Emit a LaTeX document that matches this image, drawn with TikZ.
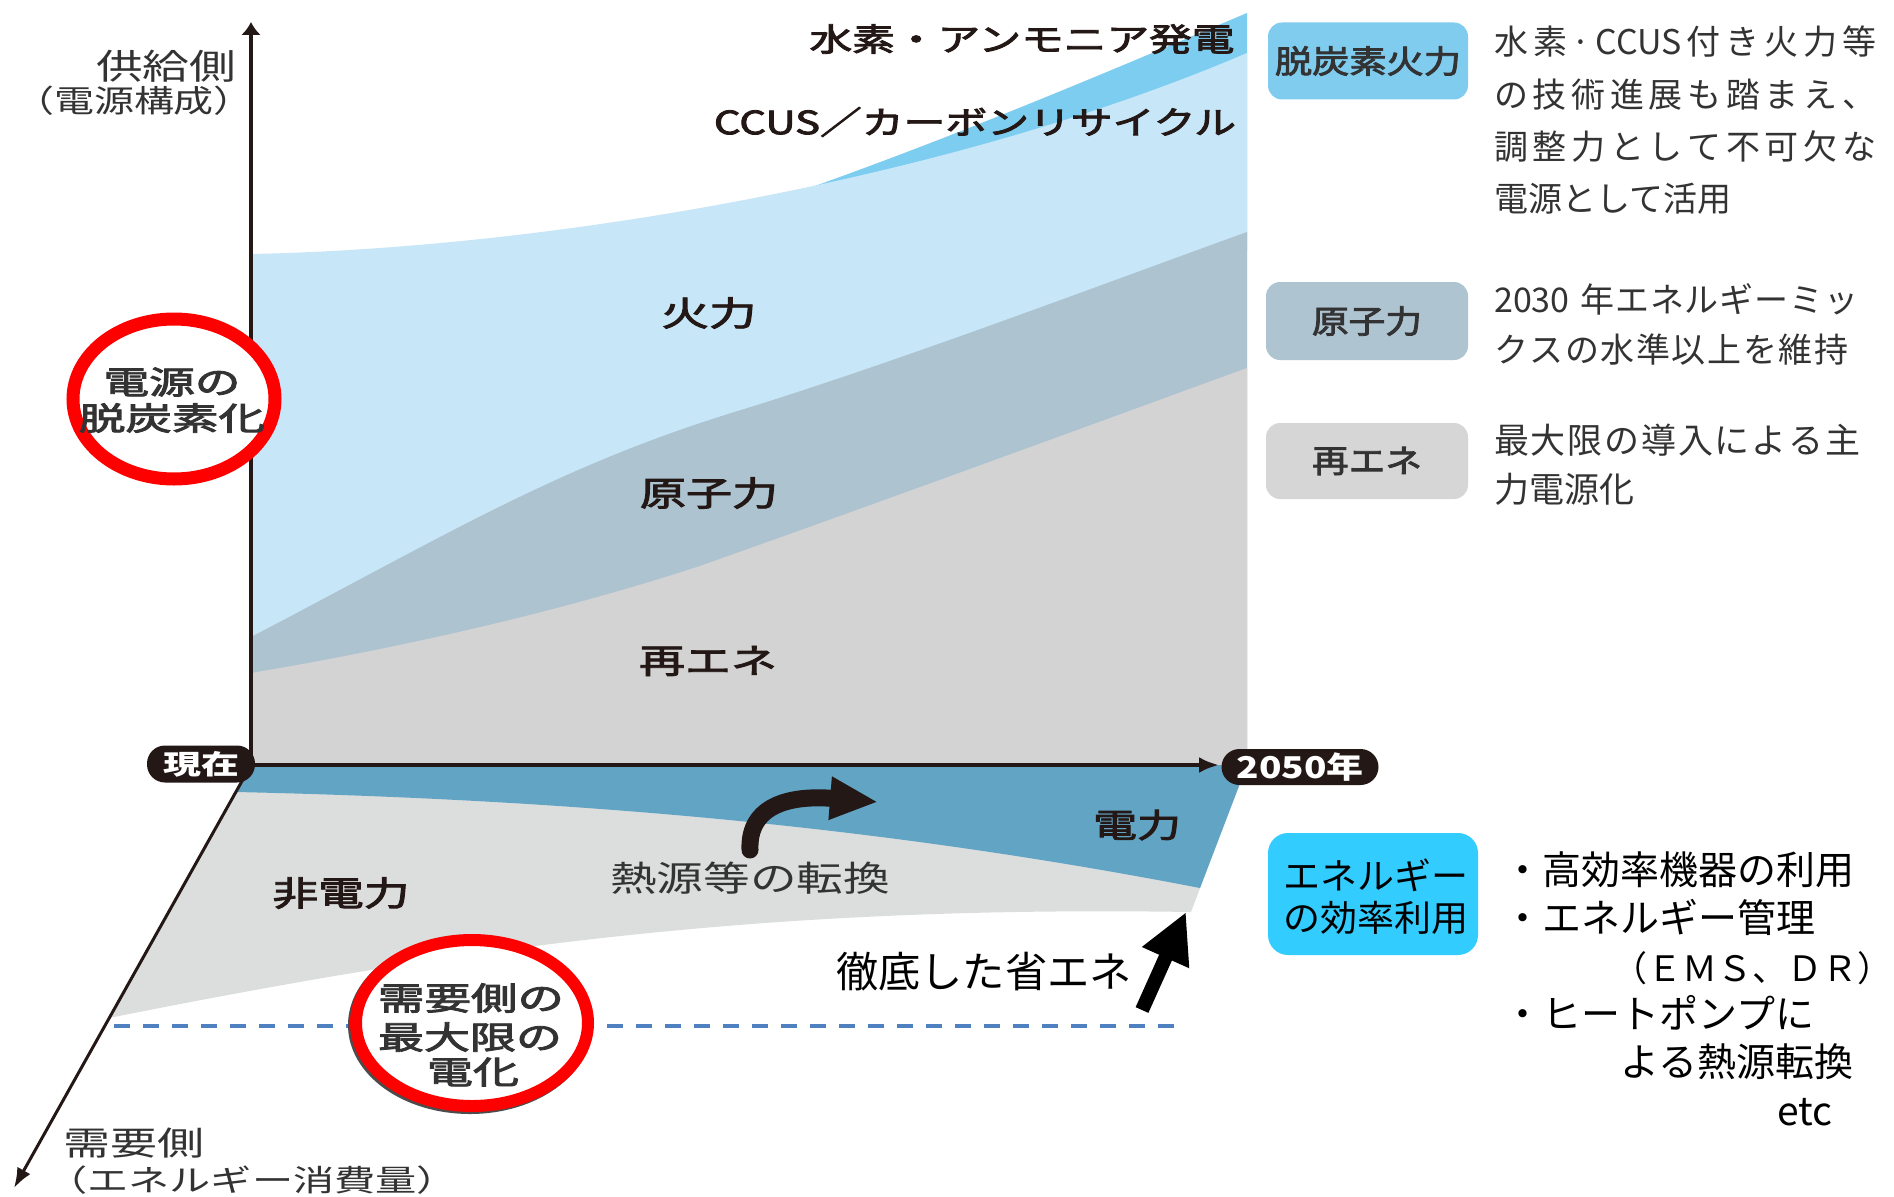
\documentclass[tikz,border=0pt]{standalone}
\usepackage{fontspec}
\setmainfont{Noto Sans CJK JP}
\newfontfamily\jpm[FakeBold=2.5]{Noto Sans CJK JP}
\usetikzlibrary{arrows.meta}
\definecolor{renc}{HTML}{D3D3D3}
\definecolor{nucc}{HTML}{ADC3D0}
\definecolor{thermc}{HTML}{C7E7F9}
\definecolor{hydc}{HTML}{7DCDF1}
\definecolor{dbluec}{HTML}{62A4C4}
\definecolor{dgrayc}{HTML}{DCDEDE}
\definecolor{inkc}{HTML}{231815}
\definecolor{txtc}{HTML}{333333}
\definecolor{dashc}{HTML}{4F80BF}
\definecolor{cyanc}{HTML}{33CCFF}
\definecolor{ringc}{HTML}{FF0000}
\definecolor{boxac}{HTML}{7FCCEF}
\definecolor{boxbc}{HTML}{AEC4D1}
\definecolor{boxcc}{HTML}{D6D6D6}
\newcommand\sx[2]{\resizebox{#1pt}{\height}{#2}}
\makeatletter
\newcommand\spr[2]{\makebox[#1pt][s]{\def\spr@sep{}\@tfor\spr@c:=#2\do{\spr@sep\spr@c\def\spr@sep{\hfill}}}}
\makeatother
\begin{document}
\begin{tikzpicture}[x=1pt,y=-1pt,
  lbl/.style={inner sep=0pt, text=inkc, font=\fontsize{34}{40}\selectfont\jpm},
  lblr/.style={inner sep=0pt, text=txtc, font=\fontsize{34}{40}\selectfont},
  desc/.style={inner sep=0pt, anchor=west, text=txtc, font=\fontsize{34}{40}\selectfont},
  bul/.style={inner sep=0pt, anchor=west, text=black, font=\fontsize{39}{44}\selectfont},
  pill/.style={fill=inkc, text=white, rounded corners=18pt, inner sep=0pt, font=\fontsize{27}{30}\selectfont\bfseries},
  rbox/.style={rounded corners=14pt, inner sep=0pt, text=txtc, font=\fontsize{32}{36}\selectfont\jpm},
  axisline/.style={draw=inkc, line width=4pt},
  ring/.style={draw=ringc, line width=13pt, fill=white},
  dashline/.style={draw=dashc, line width=4pt, dash pattern=on 16pt off 13pt},
  bigarrow/.style={draw=inkc, line width=17pt}
]
\useasboundingbox (0,0) rectangle (1894,1196);
\fill[white] (0,0) rectangle (1894,1196);

% key coordinates
\coordinate (O) at (251,765);
\coordinate (R) at (1247,765);
\coordinate (Ytip) at (251,22);
\coordinate (Xtip) at (1219,765);
\coordinate (Ztip) at (14,1188);

% ---------- supply side ----------
\fill[hydc] (740,212) .. controls (930,148) and (1100,75) .. (1247,13) -- (1247,250) -- (740,250) -- cycle;
\fill[thermc] (251,254) .. controls (550,248) and (950,180) .. (1247,53) -- (R) -- (O) -- cycle;
\fill[nucc] (251,637) .. controls (450,533) and (560,465) .. (741,410) .. controls (900,361) and (1100,285) .. (1247,232) -- (R) -- (O) -- cycle;
\fill[renc] (251,673) .. controls (400,648) and (560,612) .. (700,566) .. controls (850,513) and (1050,440) .. (1247,368) -- (R) -- (O) -- cycle;

% ---------- demand side ----------
\fill[dgrayc] (O) -- (R) -- (1191,912) .. controls (750,905) and (450,950) .. (109,1018) -- cycle;
\fill[dbluec] (O) -- (R) -- (1200,888) .. controls (900,830) and (600,800) .. (236,792) -- cycle;

% dashed reference line
\coordinate (D1) at (114,1026);
\coordinate (D2) at (1185,1026);
\draw[dashline] (D1) -- (D2);

% axes
\draw[axisline, -{Latex[length=13pt,width=20pt]}] (O) -- (Ytip);
\draw[axisline, -{Latex[length=20pt,width=16pt]}] (O) -- (Xtip);
\draw[draw=inkc, line width=3pt, -{Latex[length=20pt,width=15pt]}] (O) -- (Ztip);

% supply labels
\node[lbl, font=\fontsize{32}{36}\selectfont\jpm] (h2) at (1022,39) {\sx{425}{水素・アンモニア発電}};
\node[lbl, font=\fontsize{32}{36}\selectfont\jpm] (ccus) at (975,122) {\sx{522}{CCUS／カーボンリサイクル}};
\node[lbl] (therm) at (709,313) {\sx{95}{火力}};
\node[lbl] (nuc) at (709,493) {\sx{138}{原子力}};
\node[lbl] (ren) at (708,661) {\sx{138}{再エネ}};

% demand labels
\node[lbl, font=\fontsize{33}{36}\selectfont\jpm] (elec) at (1137,825) {\sx{88}{電力}};
\node[lbl] (nonel) at (341,893) {\sx{137}{非電力}};
\node[lblr, font=\fontsize{35}{40}\selectfont] (heat) at (750,878) {\sx{280}{熱源等の転換}};

% curved arrow (heat source conversion)
\coordinate (A1) at (750,850);
\coordinate (A2) at (878,802);
\draw[bigarrow, line cap=round, -{Triangle[length=48pt,width=40pt]}] (A1) .. controls (748,805) and (790,795) .. (A2);

% energy saving arrow
\coordinate (S1) at (1142,1010);
\coordinate (S2) at (1186,912);
\draw[draw=black, line width=14pt, -{Triangle[length=50pt,width=48pt]}] (S1) -- (S2);
\node[inner sep=0pt, text=black, font=\fontsize{42}{46}\selectfont] (save) at (984,972) {\sx{296}{徹底した省エネ}};

% axis labels
\node[lblr, font=\fontsize{35}{40}\selectfont] (sup1) at (166,66) {\sx{140}{供給側}};
\node[lblr, font=\fontsize{31}{36}\selectfont] (sup2) at (134,101) {\sx{240}{（電源構成）}};
\node[lblr, font=\fontsize{33}{36}\selectfont] (dem1) at (134,1143) {\sx{141}{需要側}};
\node[lblr, font=\fontsize{30}{34}\selectfont] (dem2) at (252,1180) {\sx{412}{（エネルギー消費量）}};

% circle 1
\coordinate (C1) at (174,399);
\draw[ring] (C1) ellipse [x radius=101, y radius=80];
\node[lbl, font=\fontsize{32}{36}\selectfont\jpm, text=txtc] (c1a) at (172,382) {\sx{137}{電源の}};
\node[lbl, font=\fontsize{32}{36}\selectfont\jpm, text=txtc] (c1b) at (172,418) {\sx{186}{脱炭素化}};

% circle 2
\coordinate (C2s) at (470,1025);
\coordinate (C2) at (472,1023);
\draw[draw=black!70, line width=12pt] (C2s) ellipse [x radius=116, y radius=83];
\draw[ring, line width=12pt] (C2) ellipse [x radius=116, y radius=83];
\node[lbl, font=\fontsize{32}{36}\selectfont\jpm, text=txtc] (c2a) at (471,998) {\sx{186}{需要側の}};
\node[lbl, font=\fontsize{32}{36}\selectfont\jpm, text=txtc] (c2b) at (470,1037) {\sx{184}{最大限の}};
\node[lbl, font=\fontsize{32}{36}\selectfont\jpm, text=txtc] (c2c) at (473,1072) {\sx{92}{電化}};

% pills
\node[pill, minimum width=108pt, minimum height=37pt] (now) at (201,764) {\sx{76}{現在}};
\node[pill, minimum width=157pt, minimum height=36pt, font=\fontsize{30}{34}\selectfont\bfseries] (y2050) at (1300,767) {\sx{127}{2050年}};

% right legend boxes
\node[rbox, fill=boxac, minimum width=200pt, minimum height=77pt] (bA) at (1368,61) {\sx{186}{脱炭素火力}};
\node[rbox, fill=boxbc, minimum width=202pt, minimum height=78pt] (bB) at (1367,321) {\sx{110}{原子力}};
\node[rbox, fill=boxcc, minimum width=202pt, minimum height=76pt] (bC) at (1367,461) {\sx{110}{再エネ}};

% descriptions
\node[desc] (dA1) at (1494,42) {\spr{382}{水素·{CCUS}付き火力等}};
\node[desc] (dA2) at (1494,95) {\spr{382}{の技術進展も踏まえ、}};
\node[desc] (dA3) at (1494,147) {\spr{382}{調整力として不可欠な}};
\node[desc] (dA4) at (1494,199) {電源として活用};
\node[desc] (dB1) at (1494,299) {\spr{364}{{2030\hspace{10pt}}年エネルギーミッ}};
\node[desc] (dB2) at (1494,350) {\spr{354}{クスの水準以上を維持}};
\node[desc, font=\fontsize{35}{40}\selectfont] (dC1) at (1494,440) {\spr{366}{最大限の導入による主}};
\node[desc, font=\fontsize{35}{40}\selectfont] (dC2) at (1494,489) {力電源化};

% energy efficiency box
\node[rounded corners=20pt, fill=cyanc, minimum width=210pt, minimum height=122pt, inner sep=0pt] (bD) at (1373,894) {};
\node[inner sep=0pt, text=black, font=\fontsize{36}{40}\selectfont] (bD1) at (1376,875) {\sx{185}{エネルギー}};
\node[inner sep=0pt, text=black, font=\fontsize{36}{40}\selectfont] (bD2) at (1376,918) {\sx{185}{の効率利用}};

% bullets
\node[bul] (e1) at (1503,870) {・高効率機器の利用};
\node[bul] (e2) at (1503,917) {・エネルギー管理};
\node[bul, anchor=east, font=\fontsize{35}{40}\selectfont] (e3) at (1893,968) {（ＥＭＳ、ＤＲ）};
\node[bul] (e4) at (1503,1013) {・ヒートポンプに};
\node[bul] (e5) at (1620,1062) {よる熱源転換};
\node[bul] (e6) at (1777,1112) {etc};
\end{tikzpicture}
\end{document}
